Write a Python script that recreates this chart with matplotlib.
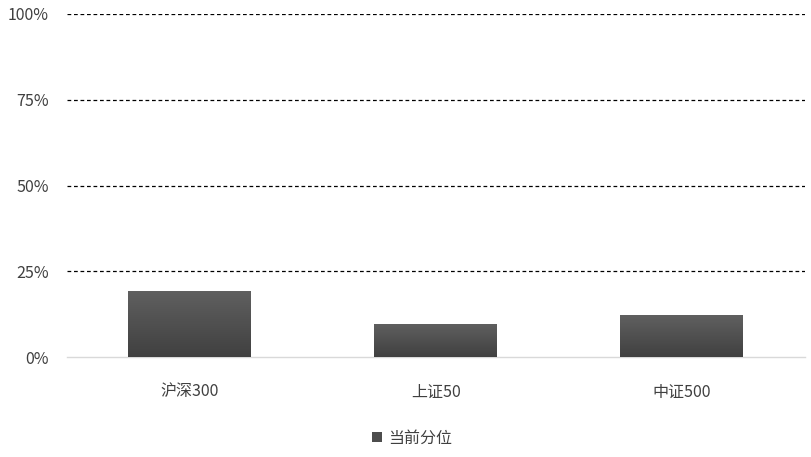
import numpy as np
import matplotlib.pyplot as plt
from matplotlib.patches import Patch
from matplotlib.colors import LinearSegmentedColormap

plt.rcParams['font.family'] = ['Noto Sans CJK SC', 'DejaVu Sans']

categories = ['沪深300', '上证50', '中证500']
values = [19.3, 9.7, 12.1]
legend_label = '当前分位'
y_ticks = [0, 25, 50, 75, 100]

fig = plt.figure(figsize=(8.12, 4.57), dpi=100)
ax = fig.add_axes([67 / 812, 100 / 457, 738 / 812, 343 / 457])

x = np.arange(len(categories))
bars = ax.bar(x, values, width=0.5, color='#4d4d4d', zorder=2)

# vertical gradient inside each bar, like the Excel fill
grad = np.linspace(0, 1, 256).reshape(-1, 1)
cmap = LinearSegmentedColormap.from_list('g', ['#404040', '#606060'])
for b in bars:
    x0, y0 = b.get_x(), b.get_y()
    w, h = b.get_width(), b.get_height()
    im = ax.imshow(grad, extent=[x0, x0 + w, y0, y0 + h], origin='lower',
                   cmap=cmap, aspect='auto', zorder=3)
    im.set_clip_path(b)

ax.set_xlim(-0.5, len(categories) - 0.5)
ax.set_ylim(0, 100)
ax.set_yticks(y_ticks)
ax.set_yticklabels([f'{t}%' for t in y_ticks])
ax.set_xticks(x)
ax.set_xticklabels(categories)
ax.tick_params(axis='both', length=0, labelsize=11.5, colors='#404040')
ax.tick_params(axis='y', pad=13)
ax.tick_params(axis='x', pad=19)

for t in y_ticks[1:]:
    ax.axhline(t, color='black', linestyle=(0, (3, 2.2)), linewidth=0.9, zorder=1)

for s in ['top', 'right', 'left']:
    ax.spines[s].set_visible(False)
ax.spines['bottom'].set_color('#d9d9d9')
ax.spines['bottom'].set_linewidth(1)

handle = Patch(facecolor='#4d4d4d', edgecolor='none')
fig.legend([handle], [legend_label], loc='center', bbox_to_anchor=(412 / 812, 1 - 438 / 457),
           frameon=False, fontsize=11.5, handlelength=0.6, handleheight=0.6,
           handletextpad=0.4, labelcolor='#404040')

fig.savefig('out.png', dpi=100)
